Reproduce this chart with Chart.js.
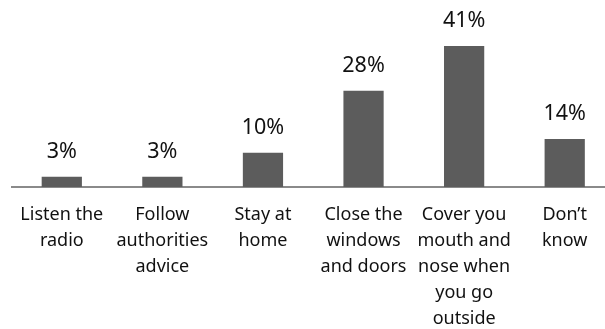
<!DOCTYPE html>
<html>
<head>
<meta charset="utf-8">
<script src="https://cdn.jsdelivr.net/npm/chart.js@4/dist/chart.umd.min.js"></script>
<style>
  html, body { margin: 0; padding: 0; background: #fff; overflow: hidden; }
  #wrap { position: relative; width: 617px; height: 329px; }
</style>
</head>
<body>
<div id="wrap"><canvas id="c"></canvas></div>
<script>
const categories = [
  ["Listen the", "radio"],
  ["Follow", "authorities", "advice"],
  ["Stay at", "home"],
  ["Close the", "windows", "and doors"],
  ["Cover you", "mouth and", "nose when", "you go", "outside"],
  ["Don\u2019t", "know"]
];
const values = [3, 3, 10, 28, 41, 14];
const valueLabels = ["3%", "3%", "10%", "28%", "41%", "14%"];

const valueLabelPlugin = {
  id: 'valueLabels',
  afterDatasetsDraw(chart) {
    const ctx = chart.ctx;
    const meta = chart.getDatasetMeta(0);
    ctx.save();
    ctx.font = '21.5px "Noto Sans"';
    ctx.fillStyle = '#111';
    ctx.textAlign = 'center';
    ctx.textBaseline = 'alphabetic';
    meta.data.forEach((bar, i) => {
      ctx.fillText(valueLabels[i], bar.x, bar.y - 19);
    });
    ctx.restore();
  }
};

new Chart(document.getElementById('c'), {
  type: 'bar',
  data: {
    labels: categories,
    datasets: [{
      data: values,
      backgroundColor: '#5c5c5c',
      borderWidth: 0,
      categoryPercentage: 1,
      barPercentage: 0.4
    }]
  },
  options: {
    responsive: true,
    maintainAspectRatio: false,
    animation: false,
    events: [],
    layout: { padding: { left: 11.5, right: 2, top: 0, bottom: 0 } },
    plugins: { legend: { display: false }, tooltip: { enabled: false } },
    scales: {
      x: {
        grid: { display: false, drawTicks: false },
        border: { display: true, color: '#8a8a8a', width: 2 },
        ticks: {
          color: '#111',
          font: { family: '"Noto Sans"', size: 18, lineHeight: '26px' },
          padding: 15,
          maxRotation: 0,
          autoSkip: false
        },
        afterFit(scale) { scale.height = 142; }
      },
      y: {
        display: false,
        min: 0,
        max: 54.4
      }
    }
  },
  plugins: [valueLabelPlugin]
});
</script>
</body>
</html>
